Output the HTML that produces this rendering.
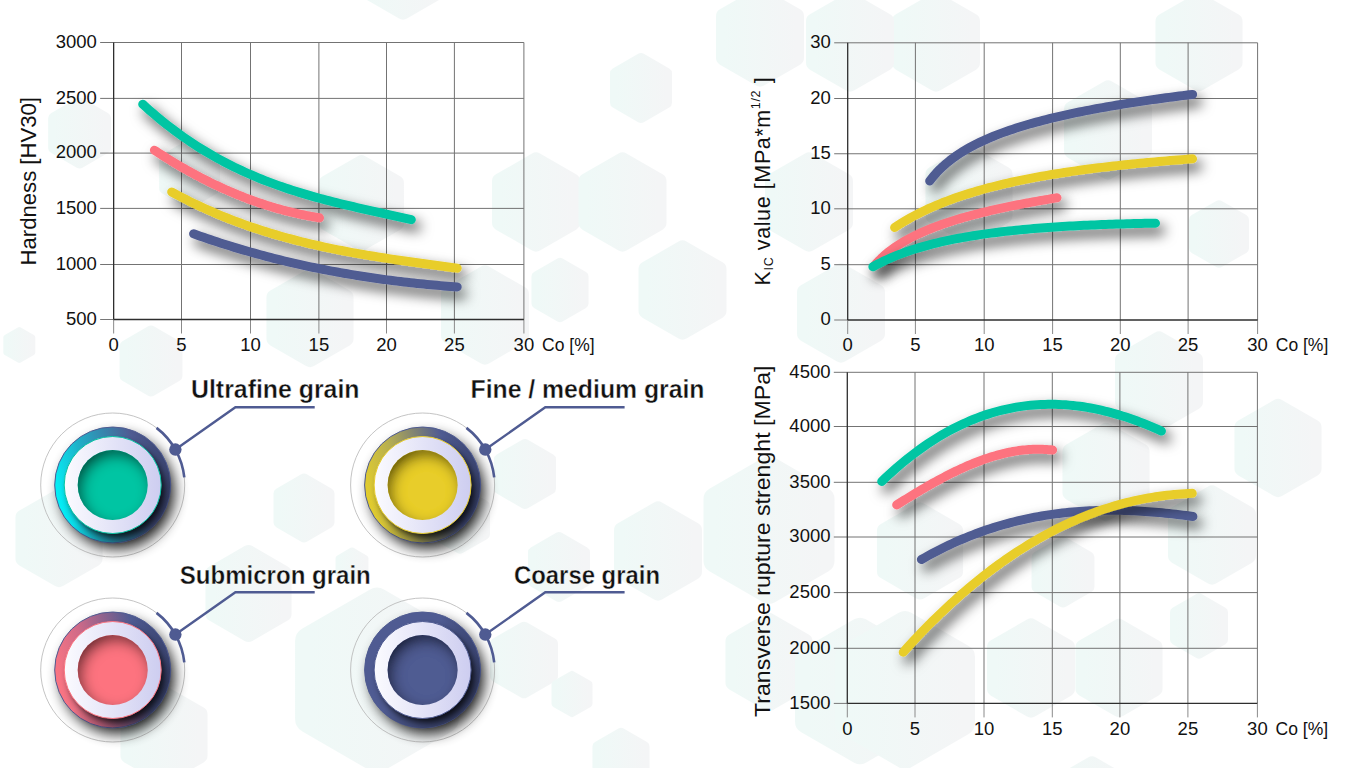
<!DOCTYPE html>
<html><head><meta charset="utf-8"><style>
html,body{margin:0;padding:0;background:#fff;width:1366px;height:768px;overflow:hidden}
svg{display:block}
.tk{font-family:"Liberation Sans", sans-serif;font-size:18.5px;fill:#111}
.lb{font-family:"Liberation Sans", sans-serif;font-size:25px;font-weight:bold;fill:#111;stroke:#fff;stroke-width:0.35px}
.ti{font-family:"Liberation Sans", sans-serif;font-size:21.5px;fill:#111}
</style></head><body>
<svg width="1366" height="768" viewBox="0 0 1366 768">
<defs>
<filter id="sh" x="-20%" y="-40%" width="150%" height="200%">
  <feDropShadow dx="5" dy="7" stdDeviation="6.5" flood-color="#000" flood-opacity="0.7"/>
</filter>
<filter id="bl6" x="-30%" y="-30%" width="160%" height="160%"><feGaussianBlur stdDeviation="7"/></filter>
<filter id="bl4" x="-30%" y="-30%" width="160%" height="160%"><feGaussianBlur stdDeviation="3.5"/></filter>
<filter id="inner" x="-20%" y="-20%" width="140%" height="140%">
  <feFlood flood-color="#000" flood-opacity="1"/>
  <feComposite in2="SourceAlpha" operator="out"/>
  <feOffset dx="4" dy="6"/>
  <feGaussianBlur stdDeviation="7"/>
  <feComponentTransfer><feFuncA type="linear" slope="0.9"/></feComponentTransfer>
  <feComposite in2="SourceAlpha" operator="in" result="sh"/>
  <feMerge><feMergeNode in="SourceGraphic"/><feMergeNode in="sh"/></feMerge>
</filter>
<linearGradient id="hg" x1="0" y1="0" x2="1" y2="0">
  <stop offset="0" stop-color="#eff9f7"/><stop offset="1" stop-color="#f4f5f6"/>
</linearGradient>
<linearGradient id="lav" x1="0" y1="0" x2="1" y2="0">
  <stop offset="0" stop-color="#fbfbff"/><stop offset="1" stop-color="#cdcdf0"/>
</linearGradient>
<linearGradient id="bdark" x1="0.3" y1="0.2" x2="0.8" y2="1">
  <stop offset="0.5" stop-color="#000" stop-opacity="0"/>
  <stop offset="1" stop-color="#000" stop-opacity="0.35"/>
</linearGradient>
<linearGradient id="rgUltrafine" x1="0" y1="0.62" x2="1" y2="0.38">
  <stop offset="0" stop-color="#00f6fb"/>
  <stop offset="0.3" stop-color="#1fb0c8"/>
  <stop offset="0.75" stop-color="#4f5b92"/>
  <stop offset="1" stop-color="#3a4470"/>
</linearGradient>
<linearGradient id="rgFine" x1="0" y1="0.62" x2="1" y2="0.38">
  <stop offset="0" stop-color="#e6cf2a"/>
  <stop offset="0.3" stop-color="#b8b050"/>
  <stop offset="0.75" stop-color="#4f5b92"/>
  <stop offset="1" stop-color="#3a4470"/>
</linearGradient>
<linearGradient id="rgSubmicron" x1="0" y1="0.62" x2="1" y2="0.38">
  <stop offset="0" stop-color="#ff7682"/>
  <stop offset="0.3" stop-color="#d06a88"/>
  <stop offset="0.75" stop-color="#4f5b92"/>
  <stop offset="1" stop-color="#3a4470"/>
</linearGradient>
<linearGradient id="rgCoarse" x1="0" y1="0.62" x2="1" y2="0.38">
  <stop offset="0" stop-color="#4f5b92"/>
  <stop offset="0.3" stop-color="#4f5b92"/>
  <stop offset="0.75" stop-color="#4f5b92"/>
  <stop offset="1" stop-color="#3a4470"/>
</linearGradient>
</defs>
<g fill="url(#hg)" stroke="url(#hg)" stroke-linejoin="round"><polygon points="403.0,11.7 366.9,-9.2 366.9,-50.8 403.0,-71.7 439.1,-50.8 439.1,-9.2" stroke-width="15.8"/>
<polygon points="79.6,162.8 53.8,147.9 53.8,118.1 79.6,103.2 105.4,118.1 105.4,147.9" stroke-width="11.3"/>
<polygon points="189.6,202.9 164.6,188.4 164.6,159.6 189.6,145.1 214.6,159.6 214.6,188.4" stroke-width="11.0"/>
<polygon points="361.5,243.2 326.6,223.1 326.6,182.9 361.5,162.8 396.3,182.9 396.4,223.1" stroke-width="15.3"/>
<polygon points="19.3,360.1 6.2,352.6 6.2,337.4 19.3,329.9 32.4,337.4 32.4,352.6" stroke-width="5.8"/>
<polygon points="151.0,390.8 125.2,375.9 125.2,346.1 151.0,331.2 176.8,346.1 176.8,375.9" stroke-width="11.3"/>
<polygon points="310.0,359.2 274.3,338.6 274.3,297.4 310.0,276.8 345.7,297.4 345.7,338.6" stroke-width="15.7"/>
<polygon points="59.0,579.2 23.3,558.6 23.3,517.4 59.0,496.8 94.7,517.4 94.7,558.6" stroke-width="15.7"/>
<polygon points="304.0,536.9 279.0,522.4 279.0,493.6 304.0,479.1 329.0,493.6 329.0,522.4" stroke-width="11.0"/>
<polygon points="248.5,634.2 213.2,613.9 213.2,573.1 248.5,552.8 283.8,573.1 283.8,613.9" stroke-width="15.5"/>
<polygon points="352.0,581.6 338.5,573.8 338.5,558.2 352.0,550.4 365.5,558.2 365.5,573.8" stroke-width="5.9"/>
<polygon points="377.0,757.6 309.8,718.8 309.8,641.2 377.0,602.4 444.2,641.2 444.2,718.8" stroke-width="29.5"/>
<polygon points="164.0,776.2 128.3,755.6 128.3,714.4 164.0,693.8 199.7,714.4 199.7,755.6" stroke-width="15.7"/>
<polygon points="525.0,503.4 499.6,488.7 499.6,459.3 525.0,444.6 550.4,459.3 550.4,488.7" stroke-width="11.2"/>
<polygon points="559.0,596.4 533.6,581.7 533.6,552.3 559.0,537.6 584.4,552.3 584.4,581.7" stroke-width="11.2"/>
<polygon points="658.0,592.7 621.9,571.8 621.9,530.2 658.0,509.3 694.1,530.2 694.1,571.8" stroke-width="15.8"/>
<polygon points="769.0,592.0 715.3,561.0 715.3,499.0 769.0,468.0 822.7,499.0 822.7,561.0" stroke-width="23.6"/>
<polygon points="524.0,692.2 496.1,676.1 496.1,643.9 524.0,627.8 551.9,643.9 551.9,676.1" stroke-width="12.2"/>
<polygon points="572.0,713.4 555.2,703.7 555.2,684.3 572.0,674.6 588.8,684.3 588.8,703.7" stroke-width="7.4"/>
<polygon points="769.0,703.2 733.3,682.6 733.3,641.4 769.0,620.8 804.7,641.4 804.7,682.6" stroke-width="15.7"/>
<polygon points="621.0,787.0 597.6,773.5 597.6,746.5 621.0,733.0 644.4,746.5 644.4,773.5" stroke-width="10.3"/>
<polygon points="860.0,752.5 806.7,721.8 806.7,660.2 860.0,629.5 913.3,660.2 913.3,721.8" stroke-width="23.4"/>
<polygon points="460.0,548.4 435.4,534.2 435.4,505.8 460.0,491.6 484.6,505.8 484.6,534.2" stroke-width="10.8"/>
<polygon points="1278.0,489.2 1242.3,468.6 1242.3,427.4 1278.0,406.8 1313.7,427.4 1313.7,468.6" stroke-width="15.7"/>
<polygon points="1212.0,576.7 1175.9,555.8 1175.9,514.2 1212.0,493.3 1248.1,514.2 1248.1,555.8" stroke-width="15.8"/>
<polygon points="1199.0,653.5 1175.2,639.7 1175.2,612.3 1199.0,598.5 1222.8,612.3 1222.8,639.7" stroke-width="10.4"/>
<polygon points="1106.0,513.2 1070.3,492.6 1070.3,451.4 1106.0,430.8 1141.7,451.4 1141.7,492.6" stroke-width="15.7"/>
<polygon points="1159.0,422.7 1122.9,401.8 1122.9,360.2 1159.0,339.3 1195.1,360.2 1195.1,401.8" stroke-width="15.8"/>
<polygon points="920.0,591.7 884.7,571.4 884.7,530.6 920.0,510.3 955.3,530.6 955.3,571.4" stroke-width="15.5"/>
<polygon points="1063.0,601.8 1037.2,586.9 1037.2,557.1 1063.0,542.2 1088.8,557.1 1088.8,586.9" stroke-width="11.3"/>
<polygon points="1031.0,709.7 994.9,688.8 994.9,647.2 1031.0,626.3 1067.1,647.2 1067.1,688.8" stroke-width="15.8"/>
<polygon points="1119.0,709.2 1083.3,688.6 1083.3,647.4 1119.0,626.8 1154.7,647.4 1154.7,688.6" stroke-width="15.7"/>
<polygon points="905.0,756.3 847.6,723.1 847.6,656.9 905.0,623.7 962.4,656.9 962.4,723.1" stroke-width="25.2"/>
<polygon points="1092.0,847.7 1055.9,826.8 1055.9,785.2 1092.0,764.3 1128.1,785.2 1128.1,826.8" stroke-width="15.8"/>
<polygon points="936.0,83.7 899.9,62.8 899.9,21.2 936.0,0.3 972.1,21.2 972.1,62.8" stroke-width="15.8"/>
<polygon points="850.0,83.7 813.9,62.8 813.9,21.2 850.0,0.3 886.1,21.2 886.1,62.8" stroke-width="15.8"/>
<polygon points="1199.0,83.2 1163.3,62.6 1163.3,21.4 1199.0,0.8 1234.7,21.4 1234.7,62.6" stroke-width="15.7"/>
<polygon points="1108.0,171.7 1071.9,150.8 1071.9,109.2 1108.0,88.3 1144.1,109.2 1144.1,150.8" stroke-width="15.8"/>
<polygon points="1219.0,262.4 1194.4,248.2 1194.4,219.8 1219.0,205.6 1243.6,219.8 1243.6,248.2" stroke-width="10.8"/>
<polygon points="969.0,236.2 933.3,215.6 933.3,174.4 969.0,153.8 1004.7,174.4 1004.7,215.6" stroke-width="15.7"/>
<polygon points="841.0,354.7 804.9,333.8 804.9,292.2 841.0,271.3 877.1,292.2 877.1,333.8" stroke-width="15.8"/>
<polygon points="641.0,117.4 615.6,102.7 615.6,73.3 641.0,58.6 666.4,73.3 666.4,102.7" stroke-width="11.2"/>
<polygon points="536.0,243.7 499.9,222.8 499.9,181.2 536.0,160.3 572.1,181.2 572.1,222.8" stroke-width="15.8"/>
<polygon points="622.5,243.7 586.4,222.8 586.4,181.2 622.5,160.3 658.6,181.2 658.6,222.8" stroke-width="15.8"/>
<polygon points="560.0,317.0 536.6,303.5 536.6,276.5 560.0,263.0 583.4,276.5 583.4,303.5" stroke-width="10.3"/>
<polygon points="682.5,331.7 646.4,310.8 646.4,269.2 682.5,248.3 718.6,269.2 718.6,310.8" stroke-width="15.8"/>
<polygon points="485.0,356.7 448.9,335.8 448.9,294.2 485.0,273.3 521.1,294.2 521.1,335.8" stroke-width="15.8"/>
<polygon points="760.0,78.7 723.9,57.8 723.9,16.2 760.0,-4.7 796.1,16.2 796.1,57.8" stroke-width="15.8"/>
<polygon points="809.0,243.7 772.9,222.8 772.9,181.2 809.0,160.3 845.1,181.2 845.1,222.8" stroke-width="15.8"/></g>
<line x1="100.15" y1="42.50" x2="523.90" y2="42.50" stroke="#737373" stroke-width="1"/>
<line x1="100.15" y1="98.40" x2="523.90" y2="98.40" stroke="#737373" stroke-width="1"/>
<line x1="100.15" y1="153.10" x2="523.90" y2="153.10" stroke="#737373" stroke-width="1"/>
<line x1="100.15" y1="208.40" x2="523.90" y2="208.40" stroke="#737373" stroke-width="1"/>
<line x1="100.15" y1="264.50" x2="523.90" y2="264.50" stroke="#737373" stroke-width="1"/>
<line x1="181.50" y1="42.50" x2="181.50" y2="319.50" stroke="#737373" stroke-width="1"/>
<line x1="181.50" y1="319.50" x2="181.50" y2="333.50" stroke="#8a8a8a" stroke-width="1"/>
<line x1="250.50" y1="42.50" x2="250.50" y2="319.50" stroke="#737373" stroke-width="1"/>
<line x1="250.50" y1="319.50" x2="250.50" y2="333.50" stroke="#8a8a8a" stroke-width="1"/>
<line x1="318.90" y1="42.50" x2="318.90" y2="319.50" stroke="#737373" stroke-width="1"/>
<line x1="318.90" y1="319.50" x2="318.90" y2="333.50" stroke="#8a8a8a" stroke-width="1"/>
<line x1="386.50" y1="42.50" x2="386.50" y2="319.50" stroke="#737373" stroke-width="1"/>
<line x1="386.50" y1="319.50" x2="386.50" y2="333.50" stroke="#8a8a8a" stroke-width="1"/>
<line x1="454.40" y1="42.50" x2="454.40" y2="319.50" stroke="#737373" stroke-width="1"/>
<line x1="454.40" y1="319.50" x2="454.40" y2="333.50" stroke="#8a8a8a" stroke-width="1"/>
<line x1="523.90" y1="42.50" x2="523.90" y2="319.50" stroke="#737373" stroke-width="1"/>
<line x1="523.90" y1="319.50" x2="523.90" y2="333.50" stroke="#8a8a8a" stroke-width="1"/>
<line x1="100.15" y1="319.50" x2="113.65" y2="319.50" stroke="#777" stroke-width="1"/>
<line x1="113.65" y1="319.50" x2="113.65" y2="333.50" stroke="#8a8a8a" stroke-width="1"/>
<line x1="113.65" y1="42.50" x2="113.65" y2="319.50" stroke="#2e2e2e" stroke-width="1.3"/>
<line x1="113.65" y1="319.50" x2="523.90" y2="319.50" stroke="#2e2e2e" stroke-width="1.3"/>
<text x="96.85" y="47.70" text-anchor="end" class="tk">3000</text>
<text x="96.85" y="103.60" text-anchor="end" class="tk">2500</text>
<text x="96.85" y="158.30" text-anchor="end" class="tk">2000</text>
<text x="96.85" y="213.60" text-anchor="end" class="tk">1500</text>
<text x="96.85" y="269.70" text-anchor="end" class="tk">1000</text>
<text x="96.85" y="324.70" text-anchor="end" class="tk">500</text>
<text x="113.65" y="350.70" text-anchor="middle" class="tk">0</text>
<text x="181.50" y="350.70" text-anchor="middle" class="tk">5</text>
<text x="250.50" y="350.70" text-anchor="middle" class="tk">10</text>
<text x="318.90" y="350.70" text-anchor="middle" class="tk">15</text>
<text x="386.50" y="350.70" text-anchor="middle" class="tk">20</text>
<text x="454.40" y="350.70" text-anchor="middle" class="tk">25</text>
<text x="523.90" y="350.70" text-anchor="middle" class="tk">30</text>
<text x="542.10" y="350.70" class="tk" textLength="52.5" lengthAdjust="spacingAndGlyphs">Co [%]</text>
<g fill="none" stroke-width="9" stroke-linecap="round" stroke-linejoin="round">
<path d="M142.70,104.17 L146.10,107.25 L149.50,110.27 L152.90,113.23 L156.30,116.12 L159.70,118.95 L163.10,121.71 L166.50,124.42 L169.90,127.06 L173.30,129.65 L176.70,132.18 L180.10,134.65 L183.50,137.06 L186.90,139.42 L190.30,141.73 L193.70,143.98 L197.10,146.18 L200.50,148.32 L203.90,150.42 L207.30,152.47 L210.70,154.46 L214.10,156.41 L217.50,158.32 L220.90,160.17 L224.30,161.99 L227.70,163.75 L231.10,165.48 L234.50,167.16 L237.90,168.80 L241.30,170.40 L244.70,171.97 L248.10,173.49 L251.50,174.97 L254.90,176.42 L258.30,177.84 L261.70,179.21 L265.10,180.56 L268.50,181.87 L271.90,183.15 L275.30,184.40 L278.70,185.62 L282.10,186.81 L285.50,187.97 L288.90,189.11 L292.30,190.21 L295.70,191.30 L299.10,192.36 L302.50,193.39 L305.90,194.40 L309.30,195.39 L312.70,196.36 L316.10,197.31 L319.50,198.25 L322.90,199.16 L326.30,200.06 L329.70,200.94 L333.10,201.80 L336.50,202.66 L339.90,203.50 L343.30,204.32 L346.70,205.14 L350.10,205.94 L353.50,206.74 L356.90,207.52 L360.30,208.30 L363.70,209.08 L367.10,209.84 L370.50,210.61 L373.90,211.36 L377.30,212.12 L380.70,212.87 L384.10,213.63 L387.50,214.38 L390.90,215.13 L394.30,215.89 L397.70,216.65 L401.10,217.41 L404.50,218.18 L407.90,218.95 L411.30,219.73" stroke="#03c5a3" filter="url(#sh)"/>
<path d="M154.40,150.17 L156.49,151.55 L158.58,152.91 L160.67,154.26 L162.76,155.60 L164.85,156.92 L166.94,158.23 L169.03,159.53 L171.12,160.82 L173.21,162.09 L175.30,163.34 L177.39,164.59 L179.48,165.82 L181.57,167.04 L183.66,168.24 L185.75,169.43 L187.84,170.61 L189.93,171.77 L192.02,172.92 L194.11,174.06 L196.20,175.18 L198.29,176.29 L200.38,177.39 L202.47,178.47 L204.56,179.54 L206.65,180.60 L208.74,181.64 L210.83,182.67 L212.92,183.69 L215.01,184.69 L217.10,185.68 L219.19,186.66 L221.28,187.62 L223.37,188.57 L225.46,189.51 L227.55,190.43 L229.64,191.34 L231.73,192.24 L233.82,193.12 L235.91,193.99 L237.99,194.84 L240.08,195.69 L242.17,196.52 L244.26,197.33 L246.35,198.13 L248.44,198.92 L250.53,199.70 L252.62,200.46 L254.71,201.21 L256.80,201.95 L258.89,202.67 L260.98,203.38 L263.07,204.07 L265.16,204.75 L267.25,205.42 L269.34,206.08 L271.43,206.72 L273.52,207.35 L275.61,207.96 L277.70,208.57 L279.79,209.15 L281.88,209.73 L283.97,210.29 L286.06,210.84 L288.15,211.37 L290.24,211.90 L292.33,212.40 L294.42,212.90 L296.51,213.38 L298.60,213.85 L300.69,214.30 L302.78,214.74 L304.87,215.17 L306.96,215.59 L309.05,215.99 L311.14,216.37 L313.23,216.75 L315.32,217.11 L317.41,217.46 L319.50,217.79" stroke="#fd737f" filter="url(#sh)"/>
<path d="M171.70,192.02 L175.31,193.98 L178.93,195.89 L182.54,197.77 L186.16,199.61 L189.77,201.41 L193.38,203.18 L197.00,204.91 L200.61,206.61 L204.23,208.27 L207.84,209.90 L211.45,211.49 L215.07,213.05 L218.68,214.57 L222.29,216.07 L225.91,217.53 L229.52,218.96 L233.14,220.36 L236.75,221.73 L240.36,223.07 L243.98,224.38 L247.59,225.66 L251.21,226.91 L254.82,228.13 L258.43,229.33 L262.05,230.50 L265.66,231.65 L269.28,232.76 L272.89,233.86 L276.50,234.93 L280.12,235.97 L283.73,236.99 L287.35,237.99 L290.96,238.96 L294.57,239.92 L298.19,240.85 L301.80,241.76 L305.42,242.65 L309.03,243.52 L312.64,244.37 L316.26,245.20 L319.87,246.01 L323.48,246.80 L327.10,247.58 L330.71,248.34 L334.33,249.08 L337.94,249.81 L341.55,250.52 L345.17,251.22 L348.78,251.90 L352.40,252.57 L356.01,253.22 L359.62,253.86 L363.24,254.49 L366.85,255.11 L370.47,255.71 L374.08,256.31 L377.69,256.89 L381.31,257.47 L384.92,258.03 L388.54,258.59 L392.15,259.14 L395.76,259.68 L399.38,260.21 L402.99,260.74 L406.61,261.25 L410.22,261.77 L413.83,262.28 L417.45,262.78 L421.06,263.28 L424.67,263.78 L428.29,264.27 L431.90,264.76 L435.52,265.25 L439.13,265.74 L442.74,266.22 L446.36,266.71 L449.97,267.19 L453.59,267.67 L457.20,268.16" stroke="#e8cd2c" filter="url(#sh)"/>
<path d="M193.60,233.82 L196.94,235.01 L200.27,236.18 L203.61,237.34 L206.95,238.49 L210.28,239.61 L213.62,240.73 L216.96,241.83 L220.29,242.91 L223.63,243.98 L226.97,245.03 L230.30,246.07 L233.64,247.09 L236.98,248.10 L240.31,249.10 L243.65,250.08 L246.99,251.05 L250.32,252.00 L253.66,252.93 L257.00,253.86 L260.33,254.77 L263.67,255.66 L267.01,256.54 L270.34,257.41 L273.68,258.27 L277.02,259.11 L280.35,259.94 L283.69,260.75 L287.03,261.55 L290.36,262.34 L293.70,263.11 L297.04,263.87 L300.37,264.62 L303.71,265.36 L307.05,266.08 L310.38,266.79 L313.72,267.49 L317.06,268.18 L320.39,268.85 L323.73,269.51 L327.07,270.16 L330.41,270.80 L333.74,271.42 L337.08,272.03 L340.42,272.63 L343.75,273.22 L347.09,273.80 L350.43,274.37 L353.76,274.92 L357.10,275.47 L360.44,276.00 L363.77,276.52 L367.11,277.03 L370.45,277.53 L373.78,278.02 L377.12,278.49 L380.46,278.96 L383.79,279.42 L387.13,279.86 L390.47,280.30 L393.80,280.72 L397.14,281.14 L400.48,281.54 L403.81,281.93 L407.15,282.32 L410.49,282.69 L413.82,283.06 L417.16,283.41 L420.50,283.76 L423.83,284.09 L427.17,284.42 L430.51,284.74 L433.84,285.04 L437.18,285.34 L440.52,285.63 L443.85,285.91 L447.19,286.18 L450.53,286.45 L453.86,286.70 L457.20,286.95" stroke="#4f5b92" filter="url(#sh)"/>
</g>
<line x1="834.20" y1="42.80" x2="1257.60" y2="42.80" stroke="#737373" stroke-width="1"/>
<line x1="834.20" y1="98.50" x2="1257.60" y2="98.50" stroke="#737373" stroke-width="1"/>
<line x1="834.20" y1="153.75" x2="1257.60" y2="153.75" stroke="#737373" stroke-width="1"/>
<line x1="834.20" y1="208.80" x2="1257.60" y2="208.80" stroke="#737373" stroke-width="1"/>
<line x1="834.20" y1="264.70" x2="1257.60" y2="264.70" stroke="#737373" stroke-width="1"/>
<line x1="915.40" y1="42.80" x2="915.40" y2="320.00" stroke="#737373" stroke-width="1"/>
<line x1="915.40" y1="320.00" x2="915.40" y2="334.00" stroke="#8a8a8a" stroke-width="1"/>
<line x1="984.20" y1="42.80" x2="984.20" y2="320.00" stroke="#737373" stroke-width="1"/>
<line x1="984.20" y1="320.00" x2="984.20" y2="334.00" stroke="#8a8a8a" stroke-width="1"/>
<line x1="1052.60" y1="42.80" x2="1052.60" y2="320.00" stroke="#737373" stroke-width="1"/>
<line x1="1052.60" y1="320.00" x2="1052.60" y2="334.00" stroke="#8a8a8a" stroke-width="1"/>
<line x1="1120.30" y1="42.80" x2="1120.30" y2="320.00" stroke="#737373" stroke-width="1"/>
<line x1="1120.30" y1="320.00" x2="1120.30" y2="334.00" stroke="#8a8a8a" stroke-width="1"/>
<line x1="1188.10" y1="42.80" x2="1188.10" y2="320.00" stroke="#737373" stroke-width="1"/>
<line x1="1188.10" y1="320.00" x2="1188.10" y2="334.00" stroke="#8a8a8a" stroke-width="1"/>
<line x1="1257.60" y1="42.80" x2="1257.60" y2="320.00" stroke="#737373" stroke-width="1"/>
<line x1="1257.60" y1="320.00" x2="1257.60" y2="334.00" stroke="#8a8a8a" stroke-width="1"/>
<line x1="834.20" y1="320.00" x2="847.70" y2="320.00" stroke="#777" stroke-width="1"/>
<line x1="847.70" y1="320.00" x2="847.70" y2="334.00" stroke="#8a8a8a" stroke-width="1"/>
<line x1="847.70" y1="42.80" x2="847.70" y2="320.00" stroke="#2e2e2e" stroke-width="1.3"/>
<line x1="847.70" y1="320.00" x2="1257.60" y2="320.00" stroke="#2e2e2e" stroke-width="1.3"/>
<text x="830.90" y="48.00" text-anchor="end" class="tk">30</text>
<text x="830.90" y="103.70" text-anchor="end" class="tk">20</text>
<text x="830.90" y="158.95" text-anchor="end" class="tk">15</text>
<text x="830.90" y="214.00" text-anchor="end" class="tk">10</text>
<text x="830.90" y="269.90" text-anchor="end" class="tk">5</text>
<text x="830.90" y="325.20" text-anchor="end" class="tk">0</text>
<text x="847.70" y="351.20" text-anchor="middle" class="tk">0</text>
<text x="915.40" y="351.20" text-anchor="middle" class="tk">5</text>
<text x="984.20" y="351.20" text-anchor="middle" class="tk">10</text>
<text x="1052.60" y="351.20" text-anchor="middle" class="tk">15</text>
<text x="1120.30" y="351.20" text-anchor="middle" class="tk">20</text>
<text x="1188.10" y="351.20" text-anchor="middle" class="tk">25</text>
<text x="1257.60" y="351.20" text-anchor="middle" class="tk">30</text>
<text x="1275.80" y="351.20" class="tk" textLength="52.5" lengthAdjust="spacingAndGlyphs">Co [%]</text>
<g fill="none" stroke-width="9" stroke-linecap="round" stroke-linejoin="round">
<path d="M929.70,181.03 L933.03,176.78 L936.36,172.96 L939.68,169.48 L943.01,166.30 L946.34,163.37 L949.67,160.65 L952.99,158.11 L956.32,155.74 L959.65,153.51 L962.98,151.41 L966.31,149.42 L969.63,147.53 L972.96,145.74 L976.29,144.03 L979.62,142.39 L982.95,140.83 L986.27,139.33 L989.60,137.89 L992.93,136.51 L996.26,135.18 L999.58,133.89 L1002.91,132.65 L1006.24,131.45 L1009.57,130.29 L1012.90,129.17 L1016.22,128.08 L1019.55,127.03 L1022.88,126.00 L1026.21,125.01 L1029.54,124.04 L1032.86,123.09 L1036.19,122.17 L1039.52,121.28 L1042.85,120.41 L1046.17,119.56 L1049.50,118.72 L1052.83,117.91 L1056.16,117.12 L1059.49,116.34 L1062.81,115.58 L1066.14,114.84 L1069.47,114.11 L1072.80,113.40 L1076.13,112.70 L1079.45,112.02 L1082.78,111.35 L1086.11,110.69 L1089.44,110.05 L1092.76,109.41 L1096.09,108.79 L1099.42,108.18 L1102.75,107.58 L1106.08,106.99 L1109.40,106.41 L1112.73,105.84 L1116.06,105.28 L1119.39,104.73 L1122.72,104.18 L1126.04,103.65 L1129.37,103.12 L1132.70,102.60 L1136.03,102.09 L1139.35,101.59 L1142.68,101.10 L1146.01,100.61 L1149.34,100.13 L1152.67,99.65 L1155.99,99.18 L1159.32,98.72 L1162.65,98.27 L1165.98,97.82 L1169.31,97.37 L1172.63,96.94 L1175.96,96.50 L1179.29,96.08 L1182.62,95.66 L1185.94,95.24 L1189.27,94.83 L1192.60,94.42" stroke="#4f5b92" filter="url(#sh)"/>
<path d="M894.60,227.56 L898.37,225.06 L902.14,222.68 L905.92,220.41 L909.69,218.24 L913.46,216.16 L917.23,214.17 L921.01,212.27 L924.78,210.44 L928.55,208.68 L932.32,206.99 L936.09,205.36 L939.87,203.80 L943.64,202.29 L947.41,200.84 L951.18,199.43 L954.95,198.08 L958.73,196.77 L962.50,195.51 L966.27,194.28 L970.04,193.10 L973.82,191.96 L977.59,190.85 L981.36,189.77 L985.13,188.73 L988.90,187.72 L992.68,186.74 L996.45,185.79 L1000.22,184.87 L1003.99,183.97 L1007.76,183.10 L1011.54,182.25 L1015.31,181.43 L1019.08,180.63 L1022.85,179.85 L1026.63,179.09 L1030.40,178.35 L1034.17,177.63 L1037.94,176.93 L1041.71,176.25 L1045.49,175.59 L1049.26,174.94 L1053.03,174.31 L1056.80,173.69 L1060.57,173.09 L1064.35,172.51 L1068.12,171.93 L1071.89,171.38 L1075.66,170.83 L1079.44,170.30 L1083.21,169.78 L1086.98,169.27 L1090.75,168.78 L1094.52,168.29 L1098.30,167.82 L1102.07,167.36 L1105.84,166.91 L1109.61,166.46 L1113.38,166.03 L1117.16,165.61 L1120.93,165.20 L1124.70,164.79 L1128.47,164.40 L1132.25,164.01 L1136.02,163.63 L1139.79,163.26 L1143.56,162.90 L1147.33,162.55 L1151.11,162.20 L1154.88,161.86 L1158.65,161.53 L1162.42,161.20 L1166.19,160.88 L1169.97,160.57 L1173.74,160.26 L1177.51,159.96 L1181.28,159.67 L1185.06,159.38 L1188.83,159.10 L1192.60,158.83" stroke="#e8cd2c" filter="url(#sh)"/>
<path d="M874.50,265.47 L876.81,262.84 L879.12,260.39 L881.43,258.12 L883.74,255.98 L886.05,253.97 L888.36,252.08 L890.67,250.28 L892.98,248.58 L895.29,246.95 L897.60,245.41 L899.91,243.93 L902.22,242.51 L904.53,241.15 L906.84,239.84 L909.15,238.58 L911.46,237.36 L913.77,236.19 L916.08,235.06 L918.39,233.96 L920.70,232.90 L923.01,231.87 L925.32,230.87 L927.63,229.90 L929.94,228.96 L932.25,228.04 L934.56,227.15 L936.87,226.28 L939.18,225.43 L941.49,224.60 L943.80,223.79 L946.11,223.00 L948.42,222.23 L950.73,221.48 L953.04,220.74 L955.35,220.02 L957.66,219.31 L959.97,218.62 L962.28,217.94 L964.59,217.28 L966.91,216.63 L969.22,215.99 L971.53,215.36 L973.84,214.74 L976.15,214.14 L978.46,213.54 L980.77,212.96 L983.08,212.38 L985.39,211.82 L987.70,211.26 L990.01,210.72 L992.32,210.18 L994.63,209.65 L996.94,209.13 L999.25,208.61 L1001.56,208.11 L1003.87,207.61 L1006.18,207.12 L1008.49,206.63 L1010.80,206.16 L1013.11,205.69 L1015.42,205.22 L1017.73,204.76 L1020.04,204.31 L1022.35,203.87 L1024.66,203.43 L1026.97,202.99 L1029.28,202.56 L1031.59,202.14 L1033.90,201.72 L1036.21,201.31 L1038.52,200.90 L1040.83,200.50 L1043.14,200.10 L1045.45,199.71 L1047.76,199.32 L1050.07,198.93 L1052.38,198.55 L1054.69,198.17 L1057.00,197.80" stroke="#fd737f" filter="url(#sh)"/>
<path d="M872.90,266.73 L876.48,264.78 L880.05,262.92 L883.63,261.16 L887.21,259.49 L890.79,257.90 L894.36,256.39 L897.94,254.95 L901.52,253.58 L905.09,252.27 L908.67,251.02 L912.25,249.83 L915.83,248.70 L919.40,247.61 L922.98,246.56 L926.56,245.57 L930.14,244.61 L933.71,243.70 L937.29,242.82 L940.87,241.98 L944.44,241.17 L948.02,240.40 L951.60,239.65 L955.18,238.94 L958.75,238.25 L962.33,237.59 L965.91,236.96 L969.48,236.35 L973.06,235.76 L976.64,235.20 L980.22,234.66 L983.79,234.14 L987.37,233.63 L990.95,233.15 L994.53,232.69 L998.10,232.24 L1001.68,231.81 L1005.26,231.39 L1008.83,230.99 L1012.41,230.61 L1015.99,230.24 L1019.57,229.88 L1023.14,229.54 L1026.72,229.21 L1030.30,228.89 L1033.87,228.59 L1037.45,228.29 L1041.03,228.01 L1044.61,227.74 L1048.18,227.48 L1051.76,227.23 L1055.34,226.98 L1058.92,226.75 L1062.49,226.53 L1066.07,226.31 L1069.65,226.11 L1073.22,225.91 L1076.80,225.72 L1080.38,225.54 L1083.96,225.36 L1087.53,225.19 L1091.11,225.03 L1094.69,224.88 L1098.26,224.73 L1101.84,224.59 L1105.42,224.46 L1109.00,224.33 L1112.57,224.21 L1116.15,224.10 L1119.73,223.98 L1123.31,223.88 L1126.88,223.78 L1130.46,223.69 L1134.04,223.60 L1137.61,223.51 L1141.19,223.43 L1144.77,223.36 L1148.35,223.29 L1151.92,223.22 L1155.50,223.16" stroke="#03c5a3" filter="url(#sh)"/>
</g>
<line x1="833.80" y1="372.30" x2="1257.40" y2="372.30" stroke="#737373" stroke-width="1"/>
<line x1="833.80" y1="426.50" x2="1257.40" y2="426.50" stroke="#737373" stroke-width="1"/>
<line x1="833.80" y1="482.30" x2="1257.40" y2="482.30" stroke="#737373" stroke-width="1"/>
<line x1="833.80" y1="537.00" x2="1257.40" y2="537.00" stroke="#737373" stroke-width="1"/>
<line x1="833.80" y1="592.60" x2="1257.40" y2="592.60" stroke="#737373" stroke-width="1"/>
<line x1="833.80" y1="648.30" x2="1257.40" y2="648.30" stroke="#737373" stroke-width="1"/>
<line x1="915.00" y1="372.30" x2="915.00" y2="703.40" stroke="#737373" stroke-width="1"/>
<line x1="915.00" y1="703.40" x2="915.00" y2="717.40" stroke="#8a8a8a" stroke-width="1"/>
<line x1="984.00" y1="372.30" x2="984.00" y2="703.40" stroke="#737373" stroke-width="1"/>
<line x1="984.00" y1="703.40" x2="984.00" y2="717.40" stroke="#8a8a8a" stroke-width="1"/>
<line x1="1052.30" y1="372.30" x2="1052.30" y2="703.40" stroke="#737373" stroke-width="1"/>
<line x1="1052.30" y1="703.40" x2="1052.30" y2="717.40" stroke="#8a8a8a" stroke-width="1"/>
<line x1="1119.90" y1="372.30" x2="1119.90" y2="703.40" stroke="#737373" stroke-width="1"/>
<line x1="1119.90" y1="703.40" x2="1119.90" y2="717.40" stroke="#8a8a8a" stroke-width="1"/>
<line x1="1187.90" y1="372.30" x2="1187.90" y2="703.40" stroke="#737373" stroke-width="1"/>
<line x1="1187.90" y1="703.40" x2="1187.90" y2="717.40" stroke="#8a8a8a" stroke-width="1"/>
<line x1="1257.40" y1="372.30" x2="1257.40" y2="703.40" stroke="#737373" stroke-width="1"/>
<line x1="1257.40" y1="703.40" x2="1257.40" y2="717.40" stroke="#8a8a8a" stroke-width="1"/>
<line x1="833.80" y1="703.40" x2="847.30" y2="703.40" stroke="#777" stroke-width="1"/>
<line x1="847.30" y1="703.40" x2="847.30" y2="717.40" stroke="#8a8a8a" stroke-width="1"/>
<line x1="847.30" y1="372.30" x2="847.30" y2="703.40" stroke="#2e2e2e" stroke-width="1.3"/>
<line x1="847.30" y1="703.40" x2="1257.40" y2="703.40" stroke="#2e2e2e" stroke-width="1.3"/>
<text x="830.50" y="377.50" text-anchor="end" class="tk">4500</text>
<text x="830.50" y="431.70" text-anchor="end" class="tk">4000</text>
<text x="830.50" y="487.50" text-anchor="end" class="tk">3500</text>
<text x="830.50" y="542.20" text-anchor="end" class="tk">3000</text>
<text x="830.50" y="597.80" text-anchor="end" class="tk">2500</text>
<text x="830.50" y="653.50" text-anchor="end" class="tk">2000</text>
<text x="830.50" y="708.60" text-anchor="end" class="tk">1500</text>
<text x="847.30" y="734.50" text-anchor="middle" class="tk">0</text>
<text x="915.00" y="734.50" text-anchor="middle" class="tk">5</text>
<text x="984.00" y="734.50" text-anchor="middle" class="tk">10</text>
<text x="1052.30" y="734.50" text-anchor="middle" class="tk">15</text>
<text x="1119.90" y="734.50" text-anchor="middle" class="tk">20</text>
<text x="1187.90" y="734.50" text-anchor="middle" class="tk">25</text>
<text x="1257.40" y="734.50" text-anchor="middle" class="tk">30</text>
<text x="1275.60" y="734.50" class="tk" textLength="52.5" lengthAdjust="spacingAndGlyphs">Co [%]</text>
<g fill="none" stroke-width="9" stroke-linecap="round" stroke-linejoin="round">
<path d="M881.70,481.47 L885.24,478.08 L888.78,474.78 L892.32,471.57 L895.86,468.43 L899.40,465.38 L902.94,462.41 L906.48,459.52 L910.02,456.71 L913.56,453.97 L917.11,451.32 L920.65,448.75 L924.19,446.25 L927.73,443.84 L931.27,441.50 L934.81,439.23 L938.35,437.04 L941.89,434.93 L945.43,432.90 L948.97,430.93 L952.51,429.05 L956.05,427.23 L959.59,425.49 L963.13,423.82 L966.67,422.23 L970.21,420.70 L973.75,419.25 L977.29,417.87 L980.83,416.56 L984.37,415.31 L987.92,414.14 L991.46,413.04 L995.00,412.00 L998.54,411.03 L1002.08,410.13 L1005.62,409.30 L1009.16,408.53 L1012.70,407.83 L1016.24,407.19 L1019.78,406.62 L1023.32,406.11 L1026.86,405.66 L1030.40,405.28 L1033.94,404.96 L1037.48,404.71 L1041.02,404.51 L1044.56,404.38 L1048.10,404.31 L1051.64,404.29 L1055.18,404.34 L1058.73,404.45 L1062.27,404.62 L1065.81,404.84 L1069.35,405.12 L1072.89,405.46 L1076.43,405.86 L1079.97,406.31 L1083.51,406.82 L1087.05,407.38 L1090.59,408.00 L1094.13,408.67 L1097.67,409.39 L1101.21,410.17 L1104.75,411.01 L1108.29,411.89 L1111.83,412.83 L1115.37,413.81 L1118.91,414.85 L1122.45,415.94 L1125.99,417.08 L1129.54,418.27 L1133.08,419.50 L1136.62,420.79 L1140.16,422.12 L1143.70,423.50 L1147.24,424.93 L1150.78,426.40 L1154.32,427.92 L1157.86,429.48 L1161.40,431.09" stroke="#03c5a3" filter="url(#sh)"/>
<path d="M896.70,504.87 L898.67,503.63 L900.65,502.39 L902.62,501.16 L904.59,499.93 L906.57,498.71 L908.54,497.49 L910.51,496.29 L912.49,495.08 L914.46,493.89 L916.43,492.70 L918.41,491.53 L920.38,490.36 L922.35,489.19 L924.33,488.04 L926.30,486.90 L928.27,485.77 L930.25,484.65 L932.22,483.53 L934.19,482.43 L936.17,481.34 L938.14,480.27 L940.12,479.20 L942.09,478.15 L944.06,477.11 L946.04,476.08 L948.01,475.06 L949.98,474.06 L951.96,473.08 L953.93,472.11 L955.90,471.15 L957.88,470.21 L959.85,469.28 L961.82,468.37 L963.80,467.48 L965.77,466.60 L967.74,465.74 L969.72,464.90 L971.69,464.08 L973.66,463.27 L975.64,462.48 L977.61,461.71 L979.58,460.96 L981.56,460.23 L983.53,459.52 L985.50,458.83 L987.48,458.16 L989.45,457.52 L991.42,456.89 L993.40,456.28 L995.37,455.70 L997.34,455.14 L999.32,454.60 L1001.29,454.09 L1003.26,453.60 L1005.24,453.13 L1007.21,452.69 L1009.18,452.27 L1011.16,451.88 L1013.13,451.51 L1015.11,451.17 L1017.08,450.85 L1019.05,450.57 L1021.03,450.30 L1023.00,450.07 L1024.97,449.86 L1026.95,449.68 L1028.92,449.53 L1030.89,449.41 L1032.87,449.31 L1034.84,449.25 L1036.81,449.21 L1038.79,449.21 L1040.76,449.23 L1042.73,449.29 L1044.71,449.38 L1046.68,449.50 L1048.65,449.65 L1050.63,449.83 L1052.60,450.05" stroke="#fd737f" filter="url(#sh)"/>
<path d="M921.40,559.51 L924.84,557.55 L928.27,555.64 L931.71,553.78 L935.15,551.96 L938.58,550.18 L942.02,548.45 L945.46,546.77 L948.89,545.13 L952.33,543.53 L955.77,541.97 L959.20,540.46 L962.64,538.99 L966.08,537.56 L969.51,536.17 L972.95,534.83 L976.39,533.52 L979.82,532.26 L983.26,531.03 L986.70,529.85 L990.13,528.70 L993.57,527.60 L997.01,526.53 L1000.44,525.50 L1003.88,524.50 L1007.32,523.55 L1010.75,522.63 L1014.19,521.75 L1017.63,520.90 L1021.06,520.09 L1024.50,519.31 L1027.94,518.57 L1031.37,517.87 L1034.81,517.20 L1038.25,516.56 L1041.68,515.95 L1045.12,515.38 L1048.56,514.84 L1051.99,514.34 L1055.43,513.86 L1058.87,513.42 L1062.31,513.01 L1065.74,512.62 L1069.18,512.27 L1072.62,511.95 L1076.05,511.66 L1079.49,511.40 L1082.93,511.16 L1086.36,510.96 L1089.80,510.78 L1093.24,510.63 L1096.67,510.50 L1100.11,510.41 L1103.55,510.34 L1106.98,510.29 L1110.42,510.27 L1113.86,510.28 L1117.29,510.31 L1120.73,510.37 L1124.17,510.45 L1127.60,510.55 L1131.04,510.68 L1134.48,510.83 L1137.91,511.00 L1141.35,511.20 L1144.79,511.42 L1148.22,511.65 L1151.66,511.91 L1155.10,512.19 L1158.53,512.49 L1161.97,512.81 L1165.41,513.15 L1168.84,513.51 L1172.28,513.89 L1175.72,514.28 L1179.15,514.69 L1182.59,515.13 L1186.03,515.57 L1189.46,516.04 L1192.90,516.52" stroke="#4f5b92" filter="url(#sh)"/>
<path d="M903.20,652.18 L906.86,648.12 L910.52,644.11 L914.18,640.17 L917.84,636.28 L921.50,632.45 L925.16,628.67 L928.82,624.96 L932.48,621.29 L936.14,617.69 L939.79,614.14 L943.45,610.64 L947.11,607.20 L950.77,603.81 L954.43,600.49 L958.09,597.21 L961.75,593.99 L965.41,590.82 L969.07,587.71 L972.73,584.65 L976.39,581.65 L980.05,578.70 L983.71,575.81 L987.37,572.96 L991.03,570.17 L994.69,567.44 L998.35,564.75 L1002.01,562.12 L1005.67,559.54 L1009.33,557.02 L1012.98,554.54 L1016.64,552.12 L1020.30,549.75 L1023.96,547.43 L1027.62,545.16 L1031.28,542.95 L1034.94,540.78 L1038.60,538.67 L1042.26,536.60 L1045.92,534.59 L1049.58,532.62 L1053.24,530.71 L1056.90,528.85 L1060.56,527.04 L1064.22,525.27 L1067.88,523.56 L1071.54,521.89 L1075.20,520.28 L1078.86,518.71 L1082.52,517.19 L1086.17,515.72 L1089.83,514.30 L1093.49,512.92 L1097.15,511.60 L1100.81,510.32 L1104.47,509.09 L1108.13,507.91 L1111.79,506.77 L1115.45,505.68 L1119.11,504.64 L1122.77,503.64 L1126.43,502.69 L1130.09,501.79 L1133.75,500.93 L1137.41,500.12 L1141.07,499.36 L1144.73,498.64 L1148.39,497.96 L1152.05,497.34 L1155.71,496.75 L1159.36,496.21 L1163.02,495.72 L1166.68,495.27 L1170.34,494.86 L1174.00,494.50 L1177.66,494.18 L1181.32,493.91 L1184.98,493.68 L1188.64,493.49 L1192.30,493.35" stroke="#e8cd2c" filter="url(#sh)"/>
</g>
<text class="ti" transform="translate(36,265.5) rotate(-90)" textLength="168.5" lengthAdjust="spacingAndGlyphs">Hardness [HV30]</text>
<text class="ti" transform="translate(769.5,285.4) rotate(-90)" letter-spacing="0.6">K<tspan font-size="12.5" dy="3">IC</tspan><tspan dy="-3"> value [MPa*m</tspan><tspan font-size="12.5" dy="-9.5">1/2</tspan><tspan dy="9.5"> ]</tspan></text>
<text class="ti" transform="translate(769.6,717) rotate(-90)" textLength="351.5" lengthAdjust="spacingAndGlyphs">Transverse rupture strenght [MPa]</text>
<circle cx="112.7" cy="485" r="72" fill="none" stroke="#b5b5b5" stroke-width="0.8"/>
<circle cx="117.7" cy="492" r="57" fill="#000" filter="url(#bl6)" opacity="0.85"/>
<circle cx="112.7" cy="485" r="58" fill="url(#rgUltrafine)" stroke="#4f5b92" stroke-width="1"/>
<circle cx="112.7" cy="485" r="58" fill="url(#bdark)"/>
<circle cx="116.7" cy="490" r="48" fill="#000" filter="url(#bl4)" opacity="0.8"/>
<circle cx="112.7" cy="485" r="48.5" fill="url(#lav)" stroke="#03c5a3" stroke-width="1"/>
<circle cx="112.7" cy="485" r="35" fill="#03c5a3" filter="url(#inner)"/>
<path d="M156.53,427.88 A72,72 0 0 1 184.31,477.47" fill="none" stroke="#4f5b92" stroke-width="2.6"/>
<circle cx="175.37" cy="449.55" r="6.2" fill="#4f5b92"/>
<path d="M175.37,449.55 L235.40,407.30 L314.70,407.30" fill="none" stroke="#4f5b92" stroke-width="2.4"/>
<text x="191.0" y="397.9" class="lb" textLength="168.5" lengthAdjust="spacingAndGlyphs">Ultrafine grain</text>
<circle cx="422.6" cy="485" r="72" fill="none" stroke="#b5b5b5" stroke-width="0.8"/>
<circle cx="427.6" cy="492" r="57" fill="#000" filter="url(#bl6)" opacity="0.85"/>
<circle cx="422.6" cy="485" r="58" fill="url(#rgFine)" stroke="#4f5b92" stroke-width="1"/>
<circle cx="422.6" cy="485" r="58" fill="url(#bdark)"/>
<circle cx="426.6" cy="490" r="48" fill="#000" filter="url(#bl4)" opacity="0.8"/>
<circle cx="422.6" cy="485" r="48.5" fill="url(#lav)" stroke="#e8cd2c" stroke-width="1"/>
<circle cx="422.6" cy="485" r="35" fill="#e8cd2c" filter="url(#inner)"/>
<path d="M466.43,427.88 A72,72 0 0 1 494.21,477.47" fill="none" stroke="#4f5b92" stroke-width="2.6"/>
<circle cx="485.27" cy="449.55" r="6.2" fill="#4f5b92"/>
<path d="M485.27,449.55 L545.30,407.30 L624.60,407.30" fill="none" stroke="#4f5b92" stroke-width="2.4"/>
<text x="470.5" y="397.9" class="lb" textLength="234" lengthAdjust="spacingAndGlyphs">Fine / medium grain</text>
<circle cx="112.7" cy="670" r="72" fill="none" stroke="#b5b5b5" stroke-width="0.8"/>
<circle cx="117.7" cy="677" r="57" fill="#000" filter="url(#bl6)" opacity="0.85"/>
<circle cx="112.7" cy="670" r="58" fill="url(#rgSubmicron)" stroke="#4f5b92" stroke-width="1"/>
<circle cx="112.7" cy="670" r="58" fill="url(#bdark)"/>
<circle cx="116.7" cy="675" r="48" fill="#000" filter="url(#bl4)" opacity="0.8"/>
<circle cx="112.7" cy="670" r="48.5" fill="url(#lav)" stroke="#fd737f" stroke-width="1"/>
<circle cx="112.7" cy="670" r="35" fill="#fd737f" filter="url(#inner)"/>
<path d="M156.53,612.88 A72,72 0 0 1 184.31,662.47" fill="none" stroke="#4f5b92" stroke-width="2.6"/>
<circle cx="175.37" cy="634.55" r="6.2" fill="#4f5b92"/>
<path d="M175.37,634.55 L235.40,592.30 L314.70,592.30" fill="none" stroke="#4f5b92" stroke-width="2.4"/>
<text x="179.8" y="584.2" class="lb" textLength="191" lengthAdjust="spacingAndGlyphs">Submicron grain</text>
<circle cx="422.6" cy="670" r="72" fill="none" stroke="#b5b5b5" stroke-width="0.8"/>
<circle cx="427.6" cy="677" r="57" fill="#000" filter="url(#bl6)" opacity="0.85"/>
<circle cx="422.6" cy="670" r="58" fill="url(#rgCoarse)" stroke="#4f5b92" stroke-width="1"/>
<circle cx="422.6" cy="670" r="58" fill="url(#bdark)"/>
<circle cx="426.6" cy="675" r="48" fill="#000" filter="url(#bl4)" opacity="0.8"/>
<circle cx="422.6" cy="670" r="48.5" fill="url(#lav)" stroke="#4f5b92" stroke-width="1"/>
<circle cx="422.6" cy="670" r="35" fill="#4f5b92" filter="url(#inner)"/>
<path d="M466.43,612.88 A72,72 0 0 1 494.21,662.47" fill="none" stroke="#4f5b92" stroke-width="2.6"/>
<circle cx="485.27" cy="634.55" r="6.2" fill="#4f5b92"/>
<path d="M485.27,634.55 L545.30,592.30 L624.60,592.30" fill="none" stroke="#4f5b92" stroke-width="2.4"/>
<text x="514.0" y="583.9" class="lb" textLength="146" lengthAdjust="spacingAndGlyphs">Coarse grain</text>
</svg>
</body></html>
